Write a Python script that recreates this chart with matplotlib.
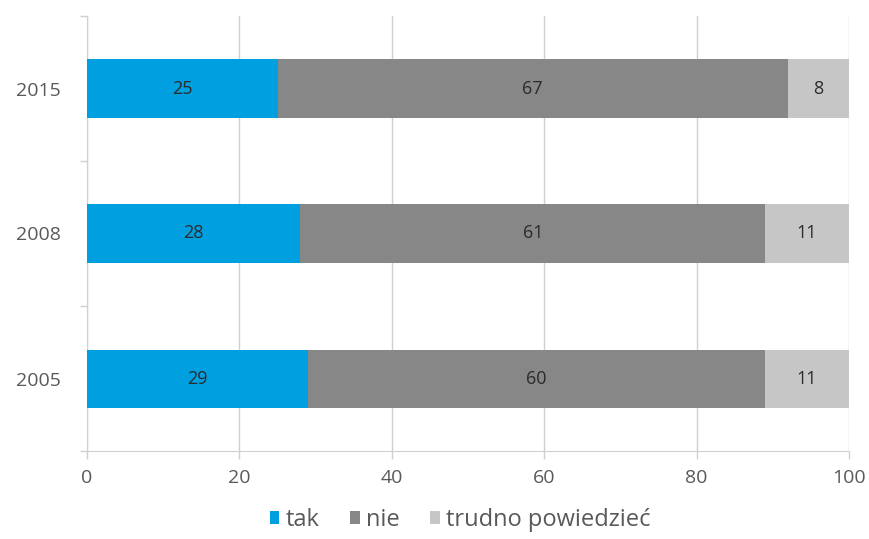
import matplotlib
matplotlib.use("Agg")
import matplotlib.pyplot as plt
import numpy as np

years = ["2005", "2008", "2015"]
tak = [29, 28, 25]
nie = [60, 61, 67]
trudno = [11, 11, 8]
series_names = ["tak", "nie", "trudno powiedzieć"]
colors = ["#009fdf", "#878787", "#c6c6c6"]
xticks = [0, 20, 40, 60, 80, 100]

plt.rcParams['font.family'] = ['Open Sans', 'DejaVu Sans']

fig = plt.figure(figsize=(8.7, 5.39), dpi=100)
ax = fig.add_axes([87/870, 88/539, (849-87)/870, (451-16)/539])

y = np.arange(len(years))
left = np.zeros(len(years))
for vals, name, col in zip([tak, nie, trudno], series_names, colors):
    bars = ax.barh(y, vals, left=left, height=0.4, color=col, label=name, zorder=3)
    for yi, l, v in zip(y, left, vals):
        ax.text(l + v / 2, yi, str(v), ha='center', va='center', fontsize=13,
                color='#2b2b2b', zorder=4)
    left = left + np.array(vals)

ax.set_xlim(0, 100)
ax.set_ylim(-0.5, len(years) - 0.5)
ax.set_xticks(xticks)
ax.set_xticklabels([str(t) for t in xticks], fontsize=14, color='#595959')
ax.set_yticks(y)
ax.set_yticklabels(years, fontsize=14, color='#595959')
ax.set_yticks(np.arange(-0.5, len(years), 1.0), minor=True)
ax.tick_params(axis='y', which='major', length=0, pad=19)
ax.tick_params(axis='y', which='minor', length=5, color='#d0d0d0', width=1)
ax.tick_params(axis='x', which='major', length=6, color='#d0d0d0', width=1, pad=7)
ax.xaxis.grid(True, color='#d0d0d0', linewidth=1, zorder=0)
for s in ['top', 'right']:
    ax.spines[s].set_visible(False)
ax.spines['left'].set_color('#d0d0d0')
ax.spines['bottom'].set_color('#d0d0d0')

handles, labels = ax.get_legend_handles_labels()
fig.legend(handles, labels, loc='center', bbox_to_anchor=(460/870, 1 - 520/539), ncol=3,
           frameon=False, fontsize=17, handlelength=0.42, handleheight=0.42,
           handletextpad=0.25, columnspacing=1.3, labelcolor='#595959')

fig.savefig("out.png", dpi=100)
